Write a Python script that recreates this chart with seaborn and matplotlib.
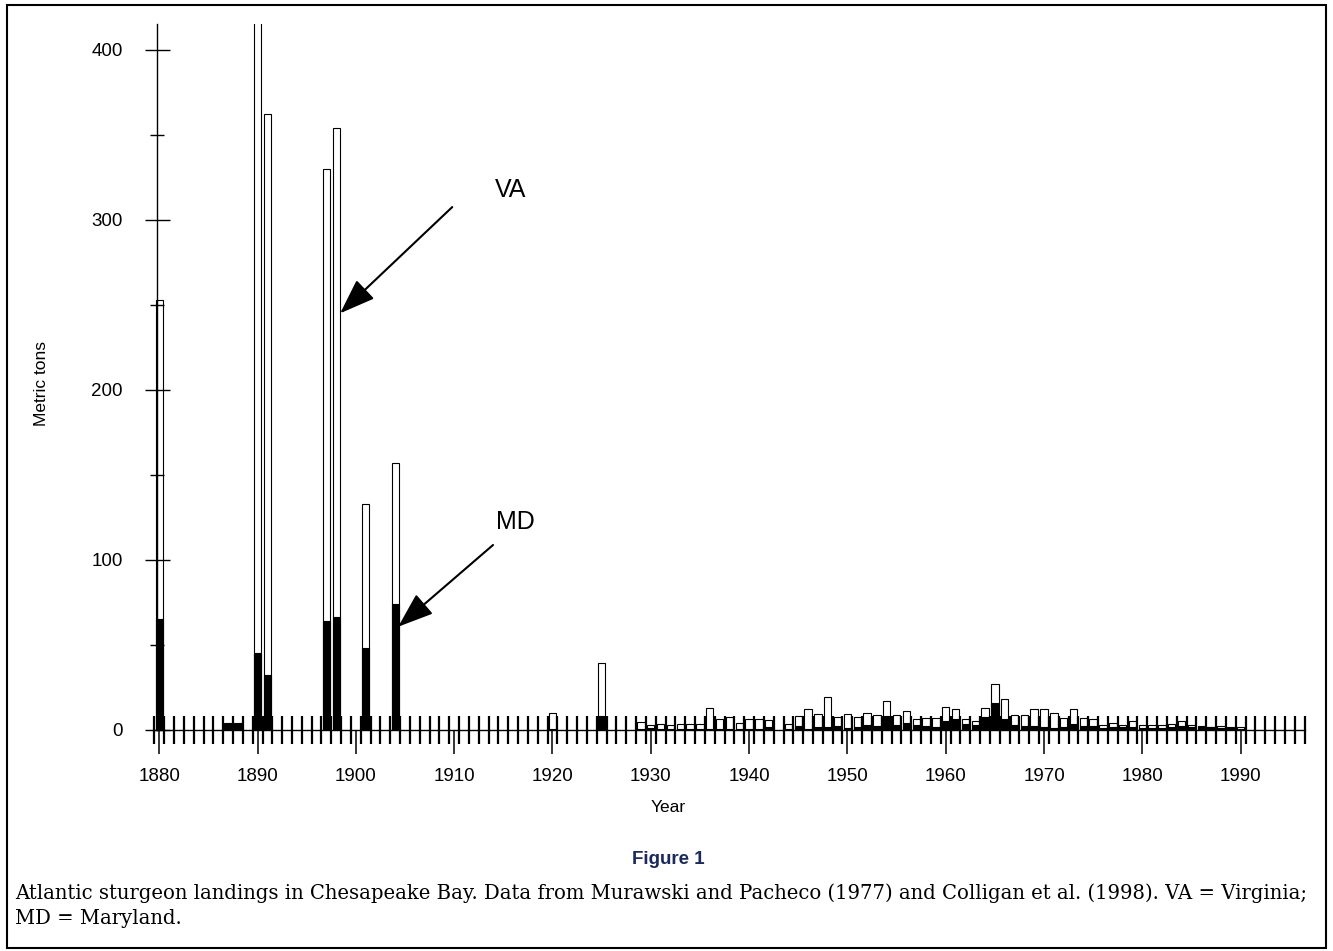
import matplotlib
matplotlib.use("Agg")
import matplotlib.pyplot as plt
import seaborn as sns
import numpy as np
import pandas as pd
from matplotlib.patches import Rectangle
from matplotlib.ticker import FixedLocator

# Landings (metric tons)
years = [1880, 1887, 1888, 1890, 1891, 1897, 1898, 1901, 1904, 1920, 1925,
         1929, 1930, 1931, 1932, 1933, 1934, 1935, 1936, 1937, 1938, 1939,
         1940, 1941, 1942, 1944, 1945, 1946, 1947, 1948, 1949,
         1950, 1951, 1952, 1953, 1954, 1955, 1956, 1957, 1958, 1959,
         1960, 1961, 1962, 1963, 1964, 1965, 1966, 1967, 1968, 1969,
         1970, 1971, 1972, 1973, 1974, 1975, 1976, 1977, 1978, 1979,
         1980, 1981, 1982, 1983, 1984, 1985, 1986, 1987, 1988, 1989, 1990]
md_tons = [65, 3.5, 3.5, 45, 32, 64, 66, 48, 74, 0.5, 8,
           0.3, 1.0, 0.3, 0.3, 0.3, 0.3, 0.3, 0.3, 0.3, 0.3, 0.3,
           0.3, 0.3, 1.6, 0.5, 2.2, 0.5, 1.6, 1.6, 2.2,
           1.0, 1.6, 2.9, 2.0, 8.2, 2.9, 4.1, 2.9, 2.2, 1.6,
           4.9, 5.9, 3.1, 2.9, 7.3, 15.7, 6.3, 2.9, 2.2, 2.2,
           1.6, 0.6, 1.6, 3.1, 2.2, 2.0, 0.6, 1.2, 1.6, 1.2,
           1.0, 1.0, 1.0, 1.6, 2.0, 1.2, 1.2, 1.2, 0.6, 0.6, 0.4]
va_tons = [188, 0.5, 0.5, 405, 330, 266, 288, 85, 83, 9.5, 31,
           4.2, 1.5, 2.8, 2.1, 3.2, 3.2, 2.8, 12.4, 6.0, 7.3, 3.8,
           6.0, 6.0, 3.9, 3.0, 5.8, 11.5, 7.6, 17.4, 5.4,
           8.0, 6.0, 7.1, 6.4, 8.8, 5.9, 6.9, 3.0, 4.3, 5.4,
           8.4, 5.9, 3.2, 2.4, 5.6, 10.8, 11.9, 5.9, 6.2, 9.6,
           10.6, 9.0, 5.3, 9.1, 4.3, 3.9, 1.9, 2.5, 1.3, 3.7,
           1.4, 1.4, 1.4, 1.9, 2.9, 1.3, 0.8, 0.0, 1.4, 1.0, 0.8]

decades = [1880, 1890, 1900, 1910, 1920, 1930, 1940, 1950, 1960, 1970, 1980, 1990]
year_marks = np.arange(1879.5, 1997.0, 1.0)
y_major = [0, 100, 200, 300, 400]
y_minor = [50, 150, 250, 350]

df = pd.DataFrame({"Year": years, "MD": md_tons, "VA": va_tons})
df["Total"] = df["MD"] + df["VA"]

sns.set_theme(style="ticks")
plt.rcParams['font.family'] = ['Liberation Sans', 'DejaVu Sans']
plt.rcParams['text.color'] = 'black'
plt.rcParams['axes.labelcolor'] = 'black'
plt.rcParams['xtick.color'] = 'black'
plt.rcParams['ytick.color'] = 'black'

fig = plt.figure(figsize=(13.33, 9.51), dpi=100)
ax = fig.add_axes([0.1147, 0.2329, 0.8643, 0.7414])

# VA stacked on MD: draw total in white, then MD in black over it
sns.barplot(data=df, x="Year", y="Total", native_scale=True, width=0.75,
            color="white", edgecolor="black", linewidth=0.8, saturation=1,
            errorbar=None, ax=ax)
sns.barplot(data=df, x="Year", y="MD", native_scale=True, width=0.75,
            color="black", edgecolor="black", linewidth=0.8, saturation=1,
            errorbar=None, ax=ax)

ax.set_axisbelow(False)
ax.set_xlim(1879.35, 1996.55)
ax.set_ylim(0, 415)
ax.spines[['top', 'right']].set_visible(False)
ax.spines['left'].set_position(('data', 1879.74))
for s in ['left', 'bottom']:
    ax.spines[s].set_linewidth(1.0)
    ax.spines[s].set_color('black')

ax.xaxis.set_major_locator(FixedLocator(decades))
ax.xaxis.set_minor_locator(FixedLocator(year_marks))
ax.yaxis.set_major_locator(FixedLocator(y_major))
ax.yaxis.set_minor_locator(FixedLocator(y_minor))

ax.tick_params(axis='x', which='major', direction='out', length=17, width=1.1,
               pad=10.5, labelsize=13.5, color='black', labelcolor='black')
ax.tick_params(axis='x', which='minor', direction='inout', length=19.5, width=1.6,
               color='black')
ax.tick_params(axis='y', which='major', direction='inout', length=18, width=1.0,
               pad=15.5, labelsize=13.5, color='black', labelcolor='black')
ax.tick_params(axis='y', which='minor', direction='inout', length=9.5, width=1.0,
               color='black')

ax.set_xlabel("Year", fontsize=12.5, color='black')
ax.set_ylabel("Metric tons", fontsize=12.5, color='black')
ax.xaxis.label.set_va('center')
ax.yaxis.label.set_va('center')
ax.xaxis.set_label_coords(0.447, -0.1113)
ax.yaxis.set_label_coords(-0.0963, 0.4914)

# state labels and arrows
arrow_kw = dict(arrowstyle='-|>,head_length=1.1,head_width=0.4', color='black',
                lw=1.5, shrinkA=0, shrinkB=0, mutation_scale=20)
ax.annotate('', xy=(1898.4, 245), xytext=(1909.8, 307.5), arrowprops=arrow_kw)
ax.annotate('', xy=(1904.3, 60.5), xytext=(1913.95, 108.6), arrowprops=arrow_kw)
ax.text(1915.7, 317.5, "VA", fontsize=18, ha='center', va='center', color='black')
ax.text(1916.2, 122, "MD", fontsize=18, ha='center', va='center', color='black')

# caption
fig.text(0.5011, 0.0957, "Figure 1", fontsize=13.5, fontweight='bold',
         ha='center', va='center', color='#1a2a5a')
fig.text(0.0113, 0.0610,
         "Atlantic sturgeon landings in Chesapeake Bay. Data from Murawski and Pacheco (1977) "
         "and Colligan et al. (1998). VA = Virginia;",
         fontsize=14.15, family='DejaVu Serif', ha='left', va='center', color='black')
fig.text(0.0113, 0.0347, "MD = Maryland.", fontsize=14.15, family='DejaVu Serif',
         ha='left', va='center', color='black')

fig.patches.append(Rectangle((0.0053, 0.0032), 0.9895, 0.9916, transform=fig.transFigure,
                             fill=False, edgecolor='black', linewidth=1.5))

plt.savefig("out.png", dpi=100)
